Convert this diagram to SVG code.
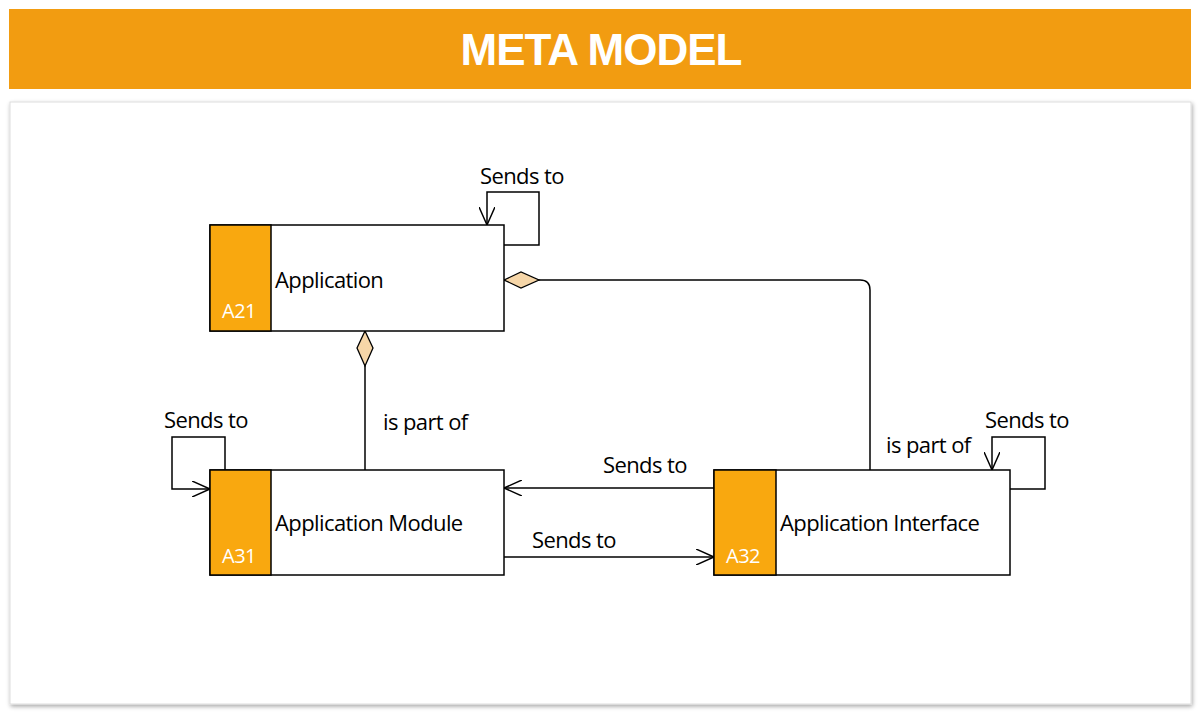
<svg xmlns="http://www.w3.org/2000/svg" width="1200" height="714" viewBox="0 0 1200 714">
<defs>
<marker id="open" markerWidth="20" markerHeight="16" refX="18" refY="8" orient="auto" markerUnits="userSpaceOnUse"><path d="M0,0 L18,8 L0,16" fill="none" stroke="#000" stroke-width="1.5"/></marker>
<marker id="dia" markerWidth="38" markerHeight="18" refX="1" refY="9" orient="auto" markerUnits="userSpaceOnUse"><path d="M1,9 L18,1 L36,9 L18,17 Z" fill="#f6d6a8" stroke="#000" stroke-width="1.3"/></marker>
<filter id="sh" x="-5%" y="-5%" width="110%" height="110%"><feDropShadow dx="1" dy="2" stdDeviation="2" flood-color="#000" flood-opacity="0.35"/></filter>
</defs>
<style>
.lbl{font-family:"Open Sans","Noto Sans",sans-serif;font-size:22px;fill:#000;letter-spacing:-0.6px}
.code{font-family:"Open Sans","Noto Sans",sans-serif;font-size:20px;fill:#fff;letter-spacing:-0.5px}
.box{fill:#fff;stroke:#000;stroke-width:1.5}
.tab{fill:#f9a80f;stroke:#000;stroke-width:1.5}
.ln{fill:none;stroke:#000;stroke-width:1.5}
</style>
<rect width="1200" height="714" fill="#fff"/>
<rect x="9" y="9" width="1182" height="80" fill="#f29c11"/>
<text x="601" y="65" text-anchor="middle" font-family="Liberation Sans,Arial,sans-serif" font-weight="bold" font-size="44" fill="#fff" letter-spacing="-1">META MODEL</text>
<rect x="10" y="102" width="1181" height="602" fill="#fff" stroke="#ddd" filter="url(#sh)"/>
<g id="connectors">
<path class="ln" d="M504,245 H539 V192 H487 V225" marker-end="url(#open)"/>
<path class="ln" d="M504,280 H860 Q870,280 870,290 V470" marker-start="url(#dia)"/>
<path class="ln" d="M365,331 V470" marker-start="url(#dia)"/>
<path class="ln" d="M225,470 V437 H172 V489 H210" marker-end="url(#open)"/>
<path class="ln" d="M1010,489 H1045 V437 H992 V470" marker-end="url(#open)"/>
<path class="ln" d="M714,488 H504" marker-end="url(#open)"/>
<path class="ln" d="M504,557 H714" marker-end="url(#open)"/>
<text class="lbl" x="480" y="184">Sends to</text>
<text class="lbl" x="383" y="430">is part of</text>
<text class="lbl" x="164" y="428">Sends to</text>
<text class="lbl" x="603" y="473">Sends to</text>
<text class="lbl" x="532" y="548">Sends to</text>
<text class="lbl" x="886" y="453">is part of</text>
<text class="lbl" x="985" y="428">Sends to</text>
</g>
<g id="A21">
<rect class="box" x="210" y="225" width="294" height="106"/>
<rect class="tab" x="210" y="225" width="61" height="106"/>
<text class="lbl" x="275" y="288">Application</text>
<text class="code" x="222" y="318">A21</text>
</g>
<g id="A31">
<rect class="box" x="210" y="470" width="294" height="105"/>
<rect class="tab" x="210" y="470" width="61" height="105"/>
<text class="lbl" x="275" y="531">Application Module</text>
<text class="code" x="222" y="563">A31</text>
</g>
<g id="A32">
<rect class="box" x="714" y="470" width="296" height="105"/>
<rect class="tab" x="714" y="470" width="62" height="105"/>
<text class="lbl" x="780" y="531">Application Interface</text>
<text class="code" x="726" y="563">A32</text>
</g>
</svg>
